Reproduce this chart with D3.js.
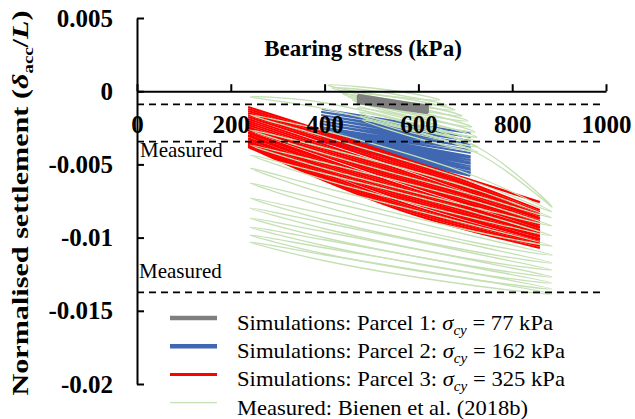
<!DOCTYPE html>
<html>
<head>
<meta charset="utf-8">
<script src="https://cdn.jsdelivr.net/npm/d3@7"></script>
<style>
  html, body { margin: 0; padding: 0; background: #fff; }
  svg { display: block; }
  text { font-family: "Liberation Serif", "Times New Roman", serif; fill: #000; }
</style>
</head>
<body>
<svg id="chart" width="635" height="419"></svg>
<script>
// ---- axis ticks ----
const xTicks = [0, 200, 400, 600, 800, 1000];
const xTickLabels = ["0", "200", "400", "600", "800", "1000"];
const yTicks = [0.005, 0, -0.005, -0.01, -0.015, -0.02];
const yTickLabels = ["0.005", "0", "-0.005", "-0.01", "-0.015", "-0.02"];

// ---- measured settlement bounds (dashed reference levels) ----
const measuredLevels = [-0.0009, -0.00345, -0.01374];
const measuredLabelLevels = [-0.00345, -0.01374];

// ---- Parcel 1 simulation: settlement at min / max bearing stress per cycle ----
const p1StressLo = 471, p1StressHi = 620;
const p1Lo = [-0.00026, -0.00033, -0.00040, -0.00046, -0.00053, -0.00060, -0.00074, -0.00081];
const p1Hi = [-0.00101, -0.00108, -0.00115, -0.00122, -0.00128, -0.00135, -0.00142, -0.00149];

// ---- Parcel 2 simulation ----
const p2StressLo = 394, p2StressHi = 710;
const p2Lo = [-0.00122, -0.00142, -0.00163, -0.00183, -0.00204, -0.00224, -0.00245, -0.00258, -0.00272, -0.00286,
              -0.00292, -0.00299, -0.00306, -0.00313, -0.00320, -0.00327, -0.00333, -0.00340, -0.00347];
const p2Hi = [-0.00286, -0.00313, -0.00340, -0.00361, -0.00381, -0.00402, -0.00422, -0.00443, -0.00456, -0.00470,
              -0.00484, -0.00497, -0.00511, -0.00525, -0.00538, -0.00552, -0.00559, -0.00572, -0.00579];

// ---- Parcel 3 simulation: settlement at min, mid and max stress per cycle ----
const p3StressLo = 237, p3StressMid = 561, p3StressHi = 859;
const p3FirstStress = [550, 859];
const p3FirstSettle = [-0.00443, -0.00757];
const p3Lo = [-0.00108, -0.00122, -0.00135, -0.00149, -0.00163, -0.00176, -0.00190, -0.00204, -0.00217, -0.00231,
              -0.00245, -0.00251, -0.00265, -0.00279, -0.00286, -0.00299, -0.00306, -0.00320, -0.00327, -0.00340,
              -0.00347, -0.00354, -0.00361, -0.00367, -0.00374, -0.00381];
const p3Mid = [-0.00449, -0.00463, -0.00477, -0.00490, -0.00504, -0.00518, -0.00538, -0.00552, -0.00566, -0.00579,
               -0.00593, -0.00607, -0.00620, -0.00641, -0.00654, -0.00668, -0.00682, -0.00695, -0.00709, -0.00723,
               -0.00736, -0.00757, -0.00771, -0.00784, -0.00798, -0.00811];
const p3Hi = [-0.00811, -0.00825, -0.00831, -0.00845, -0.00852, -0.00866, -0.00873, -0.00887, -0.00893, -0.00907,
              -0.00915, -0.00928, -0.00934, -0.00948, -0.00955, -0.00969, -0.00975, -0.00989, -0.00996, -0.01010,
              -0.01016, -0.01030, -0.01037, -0.01050, -0.01057, -0.01071];

// ---- Measured loops (Bienen et al. 2018b) ----
// stress at the unloaded tip, quarter points and loaded tip of each loop
const measStressLo = [407, 416, 429, 439, 450, 459, 465, 469, 473, 475, 480,
                      241, 241, 241, 241, 241, 241, 241, 241, 241, 241, 241, 241, 241];
const measStressQ1 = [467, 478, 490, 503, 514, 522, 529, 533, 535, 537, 542,
                      402, 402, 402, 402, 402, 402, 402, 402, 402, 402, 402, 402, 402];
const measStressQ3 = [586, 599, 616, 629, 642, 650, 657, 661, 663, 665, 665,
                      725, 725, 725, 725, 725, 725, 725, 725, 725, 725, 725, 725, 725];
const measStressHi = [646, 661, 678, 693, 706, 714, 721, 725, 725, 727, 727,
                      885, 885, 885, 885, 885, 885, 885, 885, 885, 885, 885, 885, 885];
// settlement at tips, on the loading branch (Dn) and on the unloading branch (Up)
const measLeft  = [0.000423, 0.000219, 0.000014, -0.000191, -0.000396, -0.000601, -0.000874, -0.001148, -0.001421, -0.001694, -0.001967,
                   -0.000396, -0.001626, -0.002650, -0.003675, -0.004358, -0.005246, -0.006271, -0.007295, -0.007978, -0.008661,
                   -0.009276, -0.009822, -0.010301];
const measDn1   = [-0.000020, -0.000225, -0.000499, -0.000772, -0.000977, -0.001250, -0.001523, -0.001796, -0.002138, -0.002411, -0.002684,
                   -0.001216, -0.003128, -0.004290, -0.005314, -0.006066, -0.007022, -0.007910, -0.008798, -0.009413, -0.010027,
                   -0.010574, -0.011120, -0.011599];
const measDn3   = [-0.000499, -0.000840, -0.001113, -0.001455, -0.001796, -0.002138, -0.002479, -0.002821, -0.003094, -0.003436, -0.003777,
                   -0.004221, -0.006271, -0.007158, -0.007978, -0.008730, -0.009618, -0.010369, -0.010984, -0.011530, -0.012008,
                   -0.012486, -0.012896, -0.013306];
const measRight = [-0.000601, -0.000943, -0.001284, -0.001694, -0.002035, -0.002445, -0.002787, -0.003128, -0.003470, -0.003811, -0.004153,
                   -0.007910, -0.008251, -0.008661, -0.009208, -0.009891, -0.010574, -0.011189, -0.011735, -0.012213, -0.012691,
                   -0.013101, -0.013511, -0.013852];
const measUp3   = [-0.000157, -0.000499, -0.000772, -0.001113, -0.001455, -0.001796, -0.002138, -0.002479, -0.002753, -0.003094, -0.003436,
                   -0.003811, -0.005861, -0.006749, -0.007568, -0.008320, -0.009208, -0.009959, -0.010574, -0.011120, -0.011599,
                   -0.012077, -0.012486, -0.012896];
const measUp1   = [0.000321, 0.000116, -0.000157, -0.000430, -0.000635, -0.000908, -0.001182, -0.001455, -0.001796, -0.002070, -0.002343,
                   -0.000806, -0.002719, -0.003880, -0.004904, -0.005656, -0.006612, -0.007500, -0.008388, -0.009003, -0.009618,
                   -0.010164, -0.010711, -0.011189];

// ---- Legend ----
const legendItems = [
  { label: "Simulations: Parcel 1: ", value: " = 77 kPa", color: "#7f7f7f", width: 4.5, len: 316 },
  { label: "Simulations: Parcel 2: ", value: " = 162 kPa", color: "#4068b2", width: 4.5, len: 328 },
  { label: "Simulations: Parcel 3: ", value: " = 325 kPa", color: "#ff0000", width: 3, len: 328 },
  { label: "Measured: Bienen et al. (2018b)", value: null, color: "#c5e0b4", width: 1.2, len: 291 }
];

const svg = d3.select("#chart");
const x = d3.scaleLinear().domain([0, 1000]).range([137, 606]);
const y = d3.scaleLinear().domain([-0.02, 0.005]).range([384, 18]);

svg.append("rect").attr("width", 635).attr("height", 419).attr("fill", "#fff");

const plot = svg.append("g");

// Parcel 1 and 2: straight loading/unloading lines per cycle
function drawStraightCycles(lo, hi, sLo, sHi, color, w) {
  const pts = [];
  lo.forEach((v, i) => {
    pts.push([sLo, v]);
    pts.push([sHi, hi[i]]);
  });
  plot.append("path")
    .attr("d", d3.line().x(d => x(d[0])).y(d => y(d[1]))(pts))
    .attr("fill", "none").attr("stroke", color).attr("stroke-width", w)
    .attr("stroke-linejoin", "round");
}
drawStraightCycles(p2Lo, p2Hi, p2StressLo, p2StressHi, "#4068b2", 1.8);

// Parcel 3: curved loading branches
const curveLine = d3.line().x(d => x(d[0])).y(d => y(d[1])).curve(d3.curveMonotoneX);
plot.append("path")
  .attr("d", d3.line().x(d => x(d[0])).y(d => y(d[1]))(p3FirstStress.map((s, i) => [s, p3FirstSettle[i]])))
  .attr("fill", "none").attr("stroke", "#ff0000").attr("stroke-width", 2.4);
p3Lo.forEach((v, i) => {
  plot.append("path")
    .attr("d", curveLine([[p3StressLo, v], [p3StressMid, p3Mid[i]], [p3StressHi, p3Hi[i]]]))
    .attr("fill", "none").attr("stroke", "#ff0000").attr("stroke-width", 2);
});

// Measured hysteresis loops
const loopLine = d3.line().x(d => x(d[0])).y(d => y(d[1])).curve(d3.curveCatmullRomClosed.alpha(0.5));
measLeft.forEach((v, i) => {
  const pts = [
    [measStressLo[i], v],
    [measStressQ1[i], measDn1[i]],
    [measStressQ3[i], measDn3[i]],
    [measStressHi[i], measRight[i]],
    [measStressQ3[i], measUp3[i]],
    [measStressQ1[i], measUp1[i]]
  ];
  plot.append("path")
    .attr("d", loopLine(pts))
    .attr("fill", "none").attr("stroke", "#c5e0b4").attr("stroke-width", 1.3);
});

// Parcel 1 band sits on top of the dense measured cloud
drawStraightCycles(p1Lo, p1Hi, p1StressLo, p1StressHi, "#7f7f7f", 2.4);

// Dashed measured limits
measuredLevels.forEach(v => {
  svg.append("line")
    .attr("x1", x(0)).attr("x2", x(993))
    .attr("y1", y(v)).attr("y2", y(v))
    .attr("stroke", "#000").attr("stroke-width", 1.8)
    .attr("stroke-dasharray", "7,5");
});
svg.append("text").attr("x", x(0) + 3).attr("y", y(measuredLabelLevels[0]) + 15)
  .attr("font-size", 21).text("Measured");
svg.append("text").attr("x", x(0) + 2).attr("y", y(measuredLabelLevels[1]) - 14)
  .attr("font-size", 21).text("Measured");

// Axes
const yAxis = svg.append("g").attr("transform", `translate(${x(0)},0)`)
  .call(d3.axisLeft(y).tickValues(yTicks).tickSizeInner(-7).tickSizeOuter(0).tickPadding(24)
    .tickFormat((d, i) => yTickLabels[i]));
const xAxis = svg.append("g").attr("transform", `translate(0,${y(0)})`)
  .call(d3.axisBottom(x).tickValues(xTicks).tickSizeInner(-7).tickSizeOuter(0).tickPadding(24)
    .tickFormat((d, i) => xTickLabels[i]));
[xAxis, yAxis].forEach(g => {
  g.attr("font-family", null);
  g.select(".domain").attr("stroke", "#000").attr("stroke-width", 2);
  g.selectAll(".tick line").attr("stroke", "#000").attr("stroke-width", 2);
  g.selectAll(".tick text")
    .style("font-family", "'Liberation Serif', 'Times New Roman', serif")
    .attr("font-size", 25).attr("font-weight", "bold").attr("fill", "#000");
});

// Axis titles
svg.append("text").attr("x", 363).attr("y", 56)
  .attr("text-anchor", "middle").attr("font-size", 23).attr("font-weight", "bold")
  .text("Bearing stress (kPa)");

const yt = svg.append("text")
  .attr("transform", "translate(28,203) rotate(-90)")
  .attr("text-anchor", "middle").attr("font-size", 24).attr("font-weight", "bold")
  .attr("textLength", 385).attr("lengthAdjust", "spacingAndGlyphs");
yt.append("tspan").text("Normalised settlement (");
yt.append("tspan").attr("font-style", "italic").text("δ");
yt.append("tspan").attr("font-size", 15).attr("dy", 5).text("acc");
yt.append("tspan").attr("dy", -5).text("/");
yt.append("tspan").attr("font-style", "italic").text("L");
yt.append("tspan").text(")");

// Legend
const lg = svg.append("g");
legendItems.forEach((it, i) => {
  const ly = 318 + i * 28.2;
  lg.append("line").attr("x1", 170).attr("x2", 217).attr("y1", ly).attr("y2", ly)
    .attr("stroke", it.color).attr("stroke-width", it.width);
  const t = lg.append("text").attr("x", 237).attr("y", ly + 12).attr("font-size", 21)
    .attr("textLength", it.len).attr("lengthAdjust", "spacingAndGlyphs");
  t.append("tspan").text(it.label);
  if (it.value) {
    t.append("tspan").attr("font-style", "italic").text("σ");
    t.append("tspan").attr("font-style", "italic").attr("font-size", 14).attr("dy", 5).text("cy");
    t.append("tspan").attr("dy", -5).text(it.value);
  }
});
</script>
</body>
</html>
